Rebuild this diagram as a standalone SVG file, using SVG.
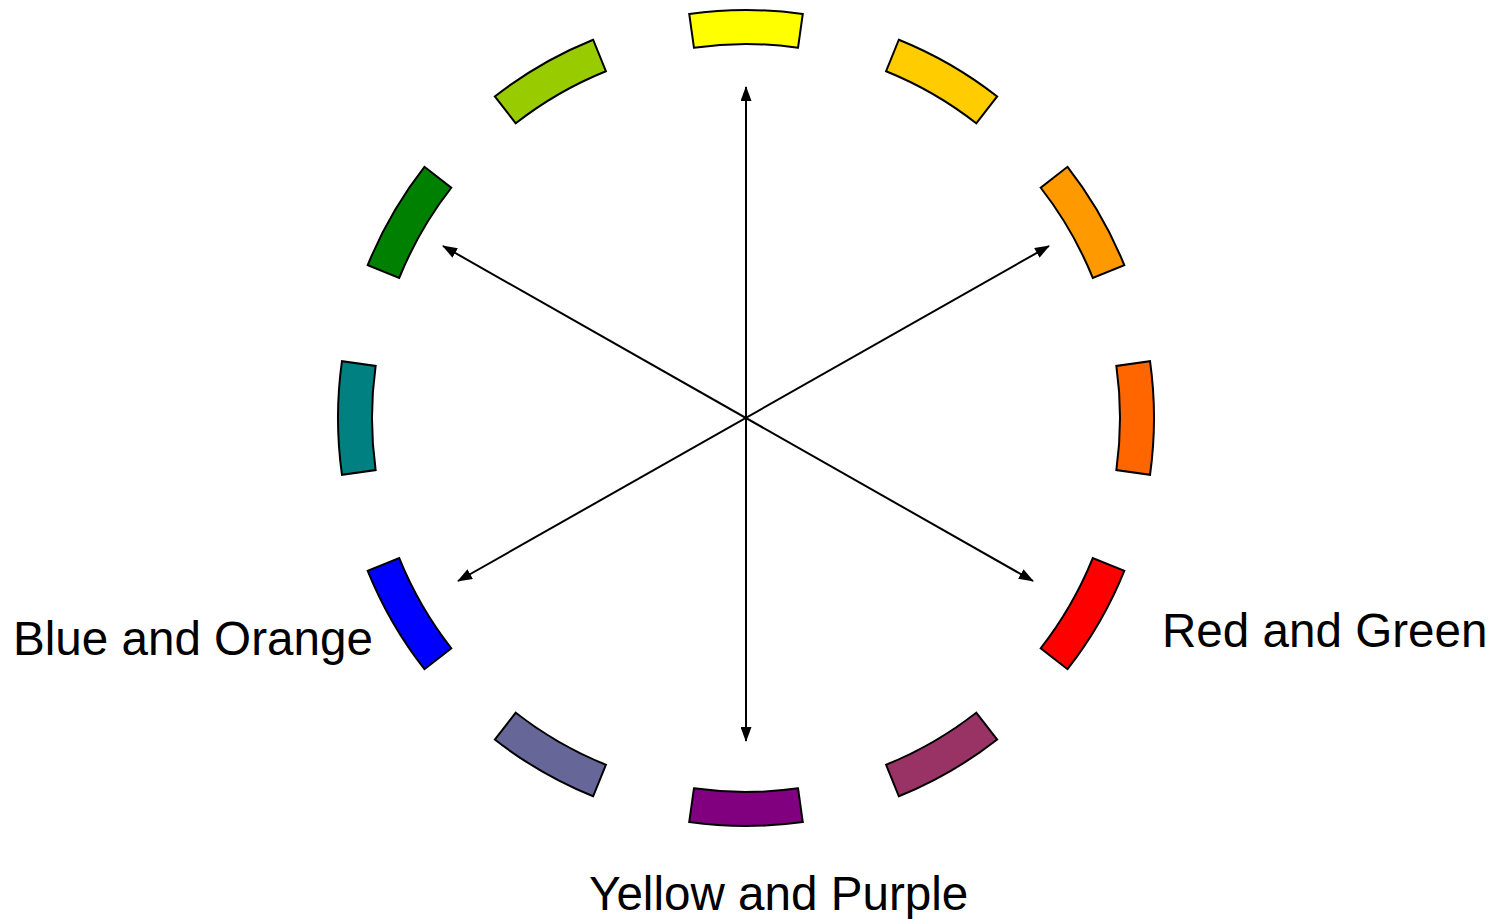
<svg xmlns="http://www.w3.org/2000/svg" width="1499" height="919" viewBox="0 0 1499 919">
<style>
.seg{stroke:#000;stroke-width:2;stroke-linejoin:miter}
.arr{stroke:#000;stroke-width:2;fill:none;marker-start:url(#ah);marker-end:url(#ah)}
.lbl{font-family:"Liberation Sans",Arial,sans-serif;font-size:47.6px;fill:#000}
</style>
<defs>
<path id="s" d="M689.22,13.97 A408,408 0 0 1 802.78,13.97 L798.05,47.64 A374,374 0 0 0 693.95,47.64 Z"/>
<marker id="ah" viewBox="0 0 15 11" refX="14" refY="5.5" markerWidth="15" markerHeight="11" markerUnits="userSpaceOnUse" orient="auto-start-reverse">
<path d="M0,0 L15,5.5 L0,11 Z" fill="#000"/>
</marker>
</defs>
<rect width="1499" height="919" fill="#fff"/>
<g id="wheel">
<g id="seg0"><use href="#s" class="seg" fill="#FFFF00"/></g>
<g id="seg30"><use href="#s" class="seg" fill="#FFCC00" transform="rotate(30 746 418)"/></g>
<g id="seg60"><use href="#s" class="seg" fill="#FF9900" transform="rotate(60 746 418)"/></g>
<g id="seg90"><use href="#s" class="seg" fill="#FF6600" transform="rotate(90 746 418)"/></g>
<g id="seg120"><use href="#s" class="seg" fill="#FF0000" transform="rotate(120 746 418)"/></g>
<g id="seg150"><use href="#s" class="seg" fill="#993366" transform="rotate(150 746 418)"/></g>
<g id="seg180"><use href="#s" class="seg" fill="#800080" transform="rotate(180 746 418)"/></g>
<g id="seg210"><use href="#s" class="seg" fill="#666699" transform="rotate(210 746 418)"/></g>
<g id="seg240"><use href="#s" class="seg" fill="#0000FF" transform="rotate(240 746 418)"/></g>
<g id="seg270"><use href="#s" class="seg" fill="#008080" transform="rotate(270 746 418)"/></g>
<g id="seg300"><use href="#s" class="seg" fill="#008000" transform="rotate(300 746 418)"/></g>
<g id="seg330"><use href="#s" class="seg" fill="#99CC00" transform="rotate(330 746 418)"/></g>
</g>
<g id="connectors">
<line class="arr" x1="746" y1="87" x2="746" y2="741"/>
<line class="arr" x1="443" y1="246" x2="1033" y2="581"/>
<line class="arr" x1="1049" y1="246" x2="458" y2="581"/>
</g>
<g id="label-blue-orange"><text class="lbl" x="13" y="655">Blue and Orange</text></g>
<g id="label-red-green"><text class="lbl" x="1162" y="647">Red and Green</text></g>
<g id="label-yellow-purple"><text class="lbl" x="589" y="910">Yellow and Purple</text></g>
</svg>
